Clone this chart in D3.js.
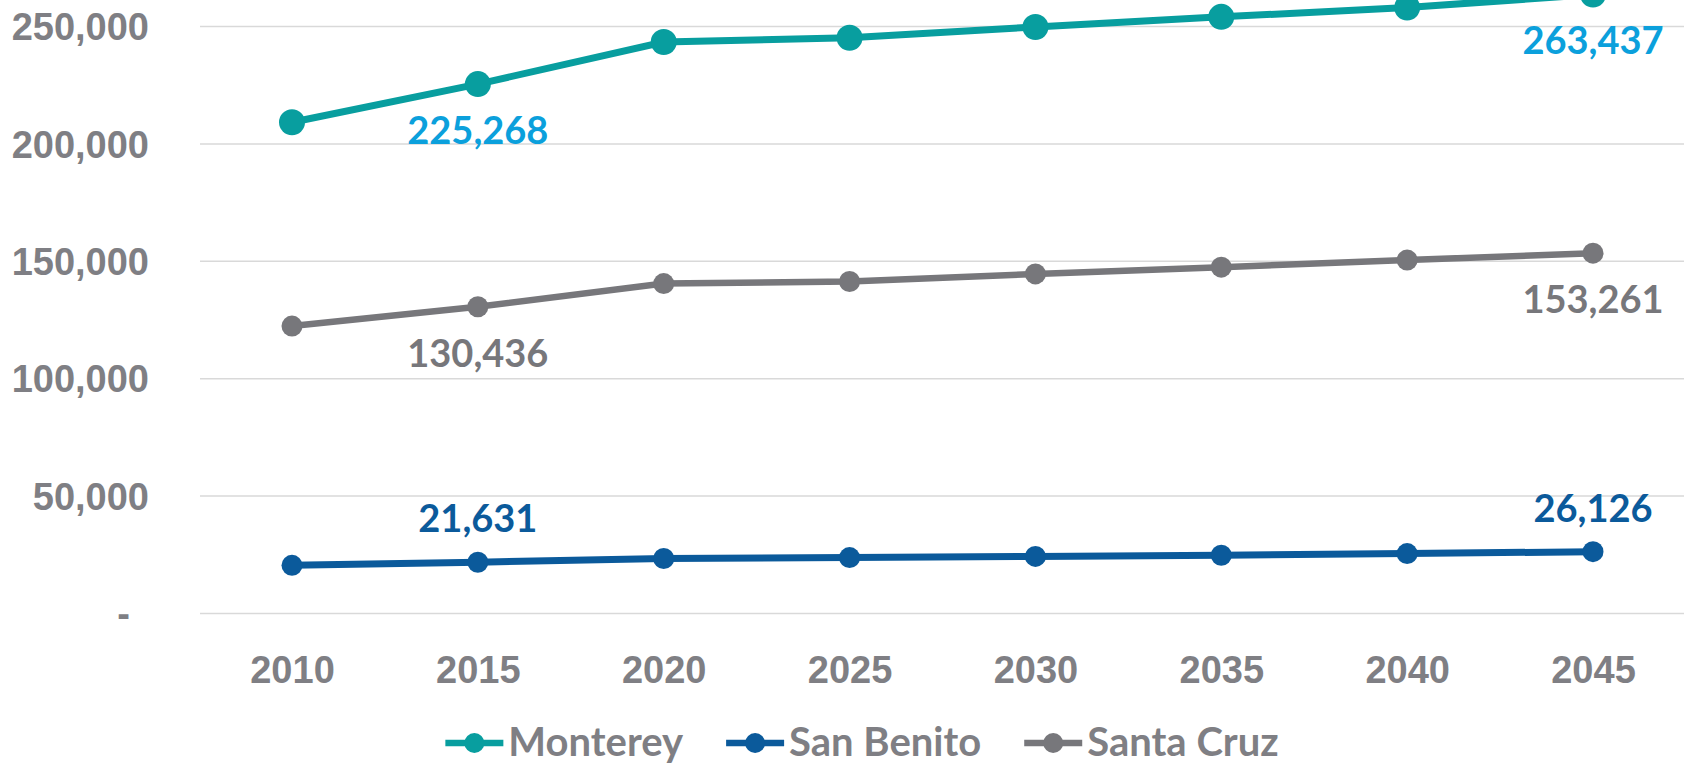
<!DOCTYPE html>
<html>
<head>
<meta charset="utf-8">
<script src="https://cdn.jsdelivr.net/npm/d3@7"></script>
<style>
  body { margin: 0; background: #fff; }
  svg { display: block; font-family: Lato, "Open Sans", sans-serif; font-weight: 700; }
</style>
</head>
<body>
<svg class="chart"></svg>
<script>
const width = 1684;
const height = 765;

const years = [2010, 2015, 2020, 2025, 2030, 2035, 2040, 2045];
const seriesNames = ['Monterey', 'San Benito', 'Santa Cruz'];
const monterey = [209000, 225268, 243200, 245000, 249600, 253900, 257900, 263437];
const sanBenito = [20300, 21631, 23200, 23600, 24100, 24600, 25300, 26126];
const santaCruz = [122200, 130436, 140300, 141200, 144400, 147300, 150300, 153261];
const yTicks = [0, 50000, 100000, 150000, 200000, 250000];
const labelled = [1, 7]; // 2015 and 2045 get a value label

const series = [
  { name: seriesNames[0], values: monterey, color: '#089e9f', labelColor: '#0ba0dc', r: 13, w: 7, below: true },
  { name: seriesNames[1], values: sanBenito, color: '#0b5a9b', labelColor: '#0b5a9b', r: 10.5, w: 7, below: false },
  { name: seriesNames[2], values: santaCruz, color: '#77777b', labelColor: '#77777b', r: 10.5, w: 6.5, below: true }
];

const svg = d3.select('.chart')
  .attr('width', width).attr('height', height);

const x = d3.scalePoint().domain(years).range([292, 1593]);
const y = d3.scaleLinear().domain([0, 250000]).range([613, 26]);

// y axis + gridlines
const yAxis = svg.append('g')
  .attr('transform', 'translate(200,0)')
  .call(d3.axisLeft(y)
    .tickValues(yTicks)
    .tickSize(-(width - 200))
    .tickPadding(51)
    .tickFormat(d => d === 0 ? '-' : d3.format(',')(d)));
yAxis.select('.domain').remove();
yAxis.selectAll('.tick line').attr('stroke', '#d9d9d9').attr('stroke-width', 1.5);
yAxis.selectAll('.tick text')
  .attr('fill', '#7f7f84')
  .style('font-size', '38px')
  .attr('dy', '0.36em');
yAxis.selectAll('.tick text').filter(d => d === 0).attr('dx', -19);

// x axis
const xAxis = svg.append('g')
  .attr('transform', 'translate(0,613)')
  .call(d3.axisBottom(x).tickSize(0).tickPadding(43));
xAxis.select('.domain').remove();
xAxis.selectAll('.tick text').attr('fill', '#7f7f84').style('font-size', '38px');

const line = d3.line()
  .x((d, i) => x(years[i]))
  .y(d => y(d));

series.forEach(s => {
  const g = svg.append('g').attr('class', 'series');
  g.append('path')
    .datum(s.values)
    .attr('d', line)
    .attr('fill', 'none')
    .attr('stroke', s.color)
    .attr('stroke-width', s.w);
  g.selectAll('circle')
    .data(s.values)
    .enter()
    .append('circle')
    .attr('cx', (d, i) => x(years[i]))
    .attr('cy', d => y(d))
    .attr('r', s.r)
    .attr('fill', s.color);
  g.selectAll('text.val')
    .data(labelled)
    .enter()
    .append('text')
    .attr('class', 'val')
    .attr('x', i => x(years[i]))
    .attr('y', i => y(s.values[i]) + (s.below ? 60 : -30))
    .attr('text-anchor', 'middle')
    .attr('fill', s.labelColor)
    .style('font-size', '38px')
    .text(i => d3.format(',')(s.values[i]));
});

// legend
const legend = svg.append('g').attr('class', 'legend');
let cursor = 0;
series.forEach((s, k) => {
  const item = legend.append('g').attr('transform', `translate(${cursor},0)`);
  item.append('line')
    .attr('x1', 0).attr('x2', 58)
    .attr('y1', 0).attr('y2', 0)
    .attr('stroke', s.color).attr('stroke-width', 6.5);
  item.append('circle')
    .attr('cx', 29).attr('cy', 0).attr('r', 10)
    .attr('fill', s.color);
  const t = item.append('text')
    .attr('x', 63).attr('y', 13)
    .attr('fill', '#7f7f84')
    .style('font-size', '40px')
    .text(s.name);
  cursor += 63 + t.node().getComputedTextLength() + 43;
});
const legendWidth = cursor - 43;
legend.attr('transform', `translate(${862 - legendWidth / 2},743)`);
</script>
</body>
</html>
